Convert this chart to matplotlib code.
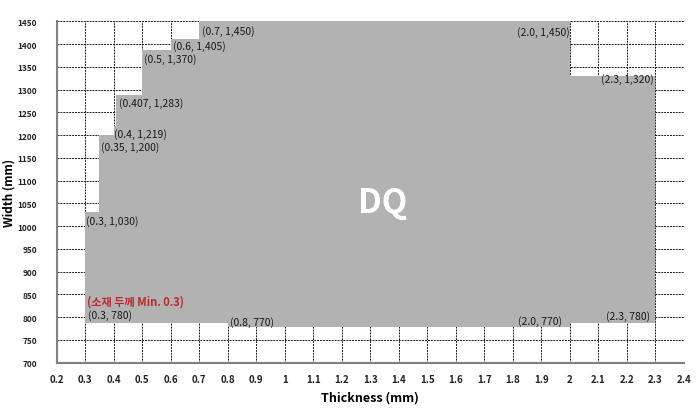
import matplotlib
matplotlib.use("Agg")
import matplotlib.pyplot as plt
from matplotlib.ticker import FixedLocator, FuncFormatter

plt.rcParams['font.family'] = ['Noto Sans CJK KR', 'DejaVu Sans']

# Boundary of the DQ region (thickness breakpoints, step-post)
thickness = [0.3, 0.35, 0.4, 0.407, 0.5, 0.6, 0.7, 0.8, 2.0, 2.3]
width_top = [1032, 1200, 1219, 1289, 1387, 1411, 1450, 1450, 1330, 1330]
width_bottom = [787, 787, 787, 787, 787, 787, 787, 779, 787, 787]

# Annotated points
pt_x = [0.7, 0.6, 0.5, 0.407, 0.4, 0.35, 0.3, 0.3, 0.8, 2.0, 2.3, 2.0, 2.3]
pt_y = [1450, 1405, 1370, 1283, 1219, 1200, 1030, 780, 770, 1450, 1320, 770, 780]
pt_labels = ["(0.7, 1,450)", "(0.6, 1,405)", "(0.5, 1,370)", "(0.407, 1,283)",
             "(0.4, 1,219)", "(0.35, 1,200)", "(0.3, 1,030)", "(0.3, 780)",
             "(0.8, 770)", "(2.0, 1,450)", "(2.3, 1,320)", "(2.0, 770)", "(2.3, 780)"]
note_text = "(소재 두께 Min. 0.3)"
region_label = "DQ"

x_ticks = [round(0.2 + 0.1 * i, 1) for i in range(23)]
y_ticks = list(range(700, 1451, 50))

# label offsets in pixels (dx, dy, ha)
offsets = [(2.5, -9.4, 'left'), (2.6, -4.2, 'left'), (2, -1.3, 'left'), (3.3, -5.7, 'left'),
           (0.6, -7.5, 'left'), (1.5, -11, 'left'), (0.8, -8.2, 'left'), (3, 11.6, 'left'),
           (2.3, 9.1, 'left'), (0, -10, 'right'), (-1, 1.5, 'right'), (-7.3, 10, 'right'),
           (-5, 10.6, 'right')]

fig = plt.figure(figsize=(6.98, 4.10), dpi=100)
ax = fig.add_axes([0.0812, 0.1129, 0.8983, 0.8327])

ax.fill_between(thickness, width_bottom, width_top, step='post',
                color='#b2b2b2', linewidth=0, zorder=2)

ax.set_xlim(0.2, 2.4)
ax.set_ylim(700, 1450)
ax.xaxis.set_major_locator(FixedLocator(x_ticks))
ax.yaxis.set_major_locator(FixedLocator(y_ticks))
ax.xaxis.set_major_formatter(FuncFormatter(lambda v, p: ('%g' % round(v, 1))))
ax.yaxis.set_major_formatter(FuncFormatter(lambda v, p: '%d' % v))

ax.grid(True, color='#1a1a1a', linestyle=(0, (2, 1)), linewidth=0.7, zorder=1)
ax.set_axisbelow(True)
for s in ['top', 'right']:
    ax.spines[s].set_visible(False)
for s in ['left', 'bottom']:
    ax.spines[s].set_color('#808080')
    ax.spines[s].set_linewidth(1.5)
    ax.spines[s].set_zorder(3)
ax.tick_params(length=0)
ax.tick_params(axis='y', pad=14, labelsize=6)
ax.tick_params(axis='x', pad=8, labelsize=7)
for lab in ax.get_xticklabels() + ax.get_yticklabels():
    lab.set_fontweight('bold')
    lab.set_color('#222222')

ax.set_xlabel("Thickness (mm)", fontsize=9, fontweight='bold', labelpad=5)
ax.set_ylabel("Width (mm)", fontsize=8.5, fontweight='bold')
ax.yaxis.set_label_coords(-0.066, 0.5)

for x, y, t, (dx, dy, ha) in zip(pt_x, pt_y, pt_labels, offsets):
    ax.annotate(t, (x, y), xytext=(dx, dy), textcoords='offset pixels',
                ha=ha, va='center', fontsize=7.5, color='#1a1a1a', zorder=5)

ax.annotate(note_text, (0.3, 780), xytext=(1.5, 25), textcoords='offset pixels',
            ha='left', va='center', fontsize=8, fontweight='bold',
            color='#c0272d', zorder=5)

ax.text(1.345, 1052, region_label, ha='center', va='center', fontsize=24,
        fontweight='bold', color='white', zorder=5)

fig.savefig('out.png', dpi=100)
